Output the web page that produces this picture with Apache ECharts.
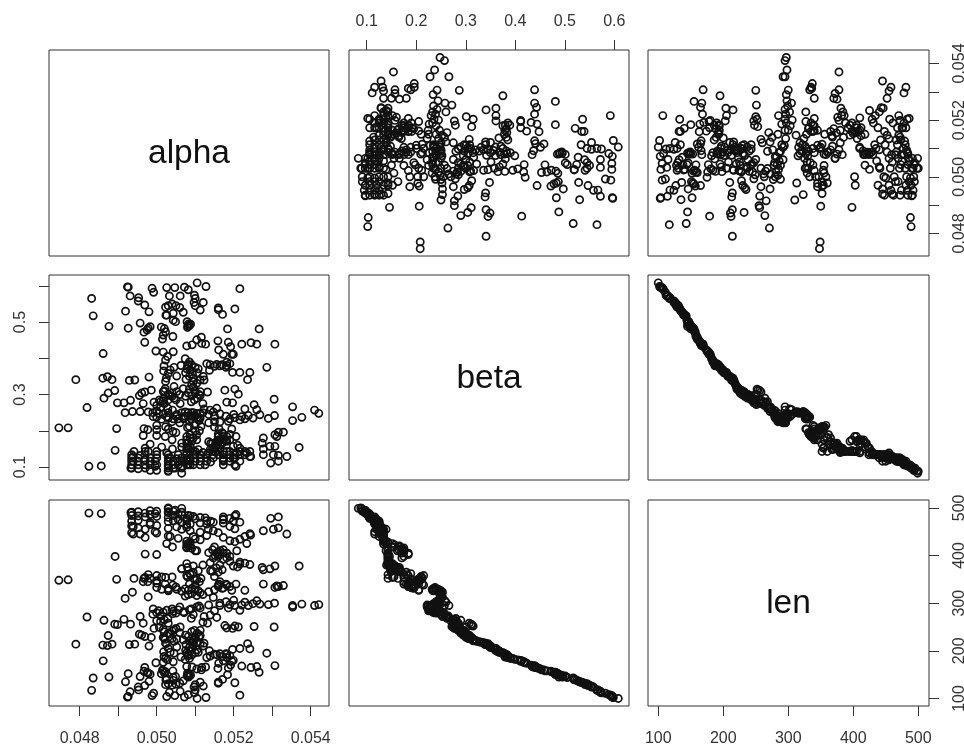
<!DOCTYPE html>
<html><head><meta charset="utf-8">
<style>html,body{margin:0;padding:0;background:#fff}#c{width:964px;height:745px}</style>
<script src="https://cdn.jsdelivr.net/npm/echarts@6/dist/echarts.min.js"></script>
</head><body><div id="c"></div>
<script>
const names = ['alpha','beta','len'];
const alphaMain = [.04924,.04926,.04988,.04992,.05026,.05047,.05072,.05082,.05105,.05128,.05216,.04831,.04931,.04953,.04952,.05033,.05061,.05098,.051,.05121,.05097,.0504,.04969,.0505,.05023,.0516,.0516,.05203,.04919,.0498,.05113,.05069,.05024,.05043,.05171,.04835,
.05026,.05043,.05049,.05079,.05088,.05081,.04957,.04876,.04926,.04983,.04978,.05012,.05184,.05266,.04967,.05023,.05017,.05015,.05042,.05116,.05104,.05159,.05186,.04969,.05078,.05092,.05117,.05127,.05192,.05221,.05245,.0526,.05307,
.04998,.05017,.05043,.05161,.05173,.05195,.05199,.04861,.05074,.05028,.05023,.05182,.05019,.05063,.05082,.05091,.05139,.05156,.05164,.05182,.05286,
.05018,.05035,.05078,.05087,.05108,.05137,.05197,.05216,.05242,.05052,.0498,.05093,.05121,.0486,.04872,.04884,.0479,.04929,.04943,.05023,.05076,.05095,.05113,.05123,.05236,
.05045,.05022,.05091,.05104,.05177,.05203,.04891,.04986,.04969,.04961,.04955,.04874,.05052,.0504,.05017,.05069,.05082,.051,.05113,.05132,.05212,.04863,.05035,.05019,.05091,.05113,
.04932,.04898,.04915,.04965,.04993,.05007,.05017,.05061,.05182,.05197,.05305,.05253,.04819,.05353,.05029,.05098,.0526,.05229,.05156,.05123,.05139,
.04918,.04937,.04957,.04978,.05,.05041,.05074,.05082,.05091,.05104,.05113,.05147,.05164,.0541,.05421,.05306,.05268,.05238,.05221,.05203,.0519,.04991,.05026,.05043,.05056,.05113,.05071,.0529,.05377,.05353,.05164,.05186,.05216,.05229,
.04746,.0477,.04896,.04967,.04977,.05,.05023,.05042,.0508,.05115,.05111,.05162,.05316,.05329,.05307,.05,.04965,.05022,.05104,.05173,.0516,.05182,.05206,.05312,.05087,.05095,.05164,.05277,
.0504,.04983,.0497,.05065,.05082,.05091,.05104,.05156,.05182,.05274,.05307,.05294,.05277,.05013,.05041,.04892,.0537,.05082,.05108,.05139,.05164,.05199,.05216,.04978,.04941,
.04939,.04957,.0497,.05,.05026,.05078,.05095,.05134,.05152,.05182,.05208,.05234,.05244,.05277,.05303,.05316,.05338,.04939,.0497,.04996,.05035,.05052,.05078,.05113,.0514,.05173,.05199,.05216,.05296,.05316,
.04824,.04856,.04933,.04952,.04983,.05,.0503,.05048,.05065,.05065,.05082,.05095,.05126,.05173,.05206,.04935,.0503,.04996];
const betaMain = [.597,.596,.593,.582,.595,.595,.596,.589,.608,.598,.592,.565,.572,.567,.558,.572,.572,.574,.565,.554,.554,.55,.547,.545,.541,.539,.534,.536,.53,.528,.533,.527,.519,.524,.521,.517,
.519,.505,.501,.501,.494,.489,.497,.488,.483,.487,.483,.486,.481,.481,.472,.473,.464,.453,.46,.458,.451,.448,.444,.444,.434,.437,.441,.439,.432,.439,.443,.439,.439,
.42,.417,.418,.423,.411,.411,.411,.413,.399,.405,.395,.389,.379,.38,.383,.382,.382,.383,.379,.38,.375,
.365,.368,.371,.368,.371,.367,.361,.361,.361,.351,.348,.356,.35,.345,.349,.341,.341,.339,.34,.336,.342,.336,.34,.34,.341,
.322,.316,.327,.331,.312,.315,.311,.312,.307,.304,.297,.304,.308,.304,.308,.316,.304,.304,.308,.307,.301,.29,.297,.29,.297,.297,
.284,.277,.277,.275,.279,.285,.283,.275,.279,.277,.287,.272,.264,.266,.262,.285,.258,.26,.262,.26,.257,
.25,.253,.253,.252,.255,.257,.252,.25,.25,.248,.248,.252,.247,.257,.248,.242,.244,.242,.239,.236,.233,.239,.239,.233,.233,.235,.235,.234,.237,.228,.224,.226,.23,.233,
.208,.208,.206,.206,.203,.203,.211,.198,.209,.212,.2,.205,.196,.196,.189,.187,.187,.184,.189,.191,.184,.184,.184,.184,.18,.18,.175,.18,
.175,.163,.152,.166,.166,.171,.175,.171,.171,.166,.157,.157,.15,.155,.15,.146,.154,.152,.148,.148,.152,.157,.152,.143,.143,
.129,.132,.134,.134,.139,.139,.134,.139,.143,.143,.139,.139,.129,.134,.134,.132,.129,.116,.12,.116,.125,.123,.12,.116,.114,.12,.125,.116,.111,.116,
.102,.103,.097,.095,.091,.091,.088,.097,.083,.102,.106,.106,.106,.106,.102,.106,.102,.102];
const lenMain = [103,104,106,111,104,106,103,108,100,102,107,117,114,118,124,113,115,112,118,126,124,128,127,130,129,132,134,133,135,136,134,137,139,138,140,143,
141,144,146,147,149,150,146,145,152,151,153,152,150,155,157,156,158,160,158,160,162,163,164,165,167,166,165,166,170,168,165,167,169,
175,176,177,174,179,178,180,179,182,181,184,186,188,187,190,191,189,192,194,193,195,
198,197,196,199,197,200,203,205,204,208,210,206,210,212,211,214,214,213,214,216,213,217,215,216,215,
220,224,219,218,253,252,256,228,230,233,235,232,225,226,228,223,230,228,232,258,250,264,236,240,240,243,
256,255,266,258,247,249,245,250,248,247,250,251,271,295,268,243,305,302,270,272,275,
310,323,272,313,280,278,315,318,320,316,322,312,300,295,297,300,298,295,296,295,297,288,285,283,286,290,280,297,298,292,295,290,285,327,
348,349,350,352,345,347,354,338,355,352,345,340,335,337,333,342,345,340,350,332,335,338,340,336,360,365,345,340,
355,352,354,372,420,415,410,405,395,375,378,372,370,355,418,398,378,425,368,385,380,378,382,360,352,
460,445,438,447,425,430,440,455,400,405,410,425,443,452,455,458,445,445,455,450,440,460,465,468,472,476,472,470,478,481,
489,488,490,492,494,493,500,495,499,485,484,482,479,481,486,484,490,488];
const alphaDense = [.04935,.04935,.04935,.04935,.04952,.04952,.04952,.0497,.0497,.0497,.04983,.04983,.04983,.05,.05,.05,.0503,.0503,.0503,.0503,.0503,.0503,.05043,.05043,.05043,.05056,.05056,.05056,.05065,.05065,.05065,
.05078,.05078,.05078,.05078,.05078,.05078,.05078,.05078,.05087,.05087,.05087,.05087,.05087,.05087,.051,.051,.051,.051,.05113,.05113,.05113,.0513,.0513,.0513,.05147,.05147,.05147,.0516,.0516,.0516,.0516,.0516,
.05173,.05173,.05173,.05173,.05173,.05173,.0519,.0519,.0519,.0519,.0519,.05203,.05203,.05203,.05216,.05216,.05229,.05229,.05242,.05242,
.05065,.05074,.05082,.05091,.051,.05108,.0507,.0509,.05104,.05095,.05052,.05017,.0503,.0499,.05005,.0503,.0505,.0512,.05135,.0515,.05,.05013,.0518,.052,.0525,
.0501,.0502,.0503,.0504,.0505,.0506,.05075,.0509,.05105,.0511,.0512,.05085,.05095,.051,.05075,.05085,.05095,.05105,.0503,.0502,.05045,.0501,.05,.0519,.0518,.0517,.0515,.0513,.051,.05085,.0508,.05045,.0503,.05025,
.05085,.05083,.0508,.0503,.0506,.0502,.051,.04975,
.05,.0503,.0505,.0515,.0517,.0518,.0519,.05195,.0516,.0517,.05155,.0514,.05065,.0508,.05095,.0512,.05145,.0521,
.05135,.05145,.0515,.05165,.0504,.0506,.05085,.0511,.05135,.0515,.051,.05085];
const betaDense = [.134,.125,.116,.097,.125,.106,.116,.143,.106,.097,.125,.116,.106,.125,.106,.143,.125,.116,.106,.097,.09,.134,.116,.106,.097,.116,.106,.134,.116,.097,.125,
.152,.134,.125,.116,.106,.166,.175,.184,.143,.125,.116,.106,.157,.189,.143,.134,.116,.2,.134,.125,.106,.134,.125,.116,.143,.134,.125,.143,.134,.175,.184,.191,
.143,.134,.125,.116,.175,.184,.143,.134,.125,.116,.175,.134,.125,.106,.143,.134,.143,.134,.143,.129,
.25,.24,.24,.24,.24,.235,.233,.233,.236,.25,.245,.245,.25,.25,.248,.235,.24,.25,.245,.24,.238,.232,.24,.245,.235,
.28,.275,.285,.295,.285,.3,.295,.28,.29,.3,.275,.315,.32,.31,.36,.35,.345,.36,.3,.31,.29,.265,.27,.385,.375,.382,.378,.385,.375,.39,.378,.375,.358,.345,
.49,.495,.485,.545,.54,.482,.545,.478,
.215,.205,.195,.21,.195,.175,.19,.205,.17,.165,.16,.165,.155,.15,.145,.14,.15,.16,
.17,.165,.155,.162,.225,.222,.226,.228,.222,.225,.215,.212];
const lenDense = [448,462,472,491,458,483,474,403,481,489,465,469,486,463,482,402,457,471,480,492,498,441,473,484,493,475,487,436,469,491,455,
383,424,459,474,478,418,416,358,428,452,466,483,422,362,410,435,477,348,433,449,480,442,466,473,395,452,470,398,448,408,402,338,
392,438,468,475,412,405,388,431,461,478,398,429,456,483,386,434,384,440,381,446,
325,330,327,331,328,326,282,288,292,276,329,281,326,277,284,331,279,318,324,328,333,329,303,306,299,
262,265,258,242,247,238,233,268,237,229,260,221,222,227,201,207,212,202,237,227,244,273,263,190,194,188,193,186,196,184,192,195,205,215,
148,145,153,131,132,154,129,155,
358,328,334,356,331,340,335,327,365,370,374,368,372,375,378,380,367,376,
406,412,418,410,288,292,286,294,296,284,338,340];
const alphaTicks = [.048,.049,.05,.051,.052,.053,.054];
const alphaLabels = [.048,.05,.052,.054];
const betaTicks = [.1,.2,.3,.4,.5,.6];
const betaLabelsLeft = [.1,.3,.5];
const lenTicks = [100,200,300,400,500];

const values = [alphaMain.concat(alphaDense), betaMain.concat(betaDense), lenMain.concat(lenDense)];
const ranges = [[.047203,.054475],[.0642,.6297],[84.2,516.5]];
const ticks = [alphaTicks, betaTicks, lenTicks];
const colX = [[49,280],[349,280],[648,281]];
const rowY = [[50,206],[275,205],[500,206]];
const fmt = [v=>v.toFixed(3), v=>v.toFixed(1), v=>String(v)];
const margins = {bottom:25, top:20, left:20, right:23};

const tickStyle = {lineStyle:{color:'#333',width:1}, length:10};
const labelStyle = {color:'#333', fontFamily:'"Liberation Sans",Arial,sans-serif', fontSize:16};
function axisOf(v, idx, show, pos, labelVals, rotate){
  const ax = {type:'value', gridIndex:idx, min:ranges[v][0], max:ranges[v][1], position:pos,
    splitLine:{show:false}, axisLine:{show:false}, scale:true,
    axisTick:{show:false}, axisLabel:{show:false}};
  if(show){
    ax.axisTick = Object.assign({show:true, customValues:ticks[v]}, tickStyle);
    ax.axisLabel = Object.assign({show:true, customValues:labelVals||ticks[v], margin:margins[pos], rotate:rotate||0,
      showMinLabel:true, showMaxLabel:true, formatter:fmt[v]}, labelStyle);
  }
  return ax;
}
const grid=[], xAxis=[], yAxis=[], series=[], title=[];
for(let r=0;r<3;r++) for(let c=0;c<3;c++){
  const idx = grid.length;
  grid.push({left:colX[c][0], top:rowY[r][0], width:colX[c][1], height:rowY[r][1], show:true,
    borderColor:'#333', borderWidth:1, backgroundColor:'#fff', containLabel:false, outerBoundsMode:'none'});
  let xShow=false, xPos='bottom', xLab=null;
  if(r===0 && c===1){xShow=true; xPos='top';}
  if(r===2 && c===0){xShow=true; xLab=alphaLabels;}
  if(r===2 && c===2){xShow=true;}
  let yShow=false, yPos='left', yLab=null;
  if(r===1 && c===0){yShow=true; yLab=betaLabelsLeft;}
  if(r===0 && c===2){yShow=true; yPos='right'; yLab=alphaLabels;}
  if(r===2 && c===2){yShow=true; yPos='right';}
  xAxis.push(axisOf(c, idx, xShow, xPos, xLab, 0));
  yAxis.push(axisOf(r, idx, yShow, yPos, yLab, 90));
  if(r===c){
    title.push({text:names[r], left:colX[c][0]+colX[c][1]/2, top:rowY[r][0]+rowY[r][1]/2+1, textAlign:'center', textVerticalAlign:'middle',
      padding:0, textStyle:{fontFamily:'"Liberation Sans",Arial,sans-serif', fontSize:33.5, fontWeight:'normal', color:'#111'}});
  } else {
    series.push({type:'scatter', xAxisIndex:idx, yAxisIndex:idx, symbol:'circle', symbolSize:7.2, silent:true, animation:false,
      itemStyle:{color:'rgba(0,0,0,0)', borderColor:'#111', borderWidth:1.7, opacity:1},
      data: values[c].map((x,i)=>[x, values[r][i]])});
  }
}
const chart = echarts.init(document.getElementById('c'), null, {renderer:'canvas'});
chart.setOption({animation:false, backgroundColor:'#fff', title, grid, xAxis, yAxis, series});
</script></body></html>
